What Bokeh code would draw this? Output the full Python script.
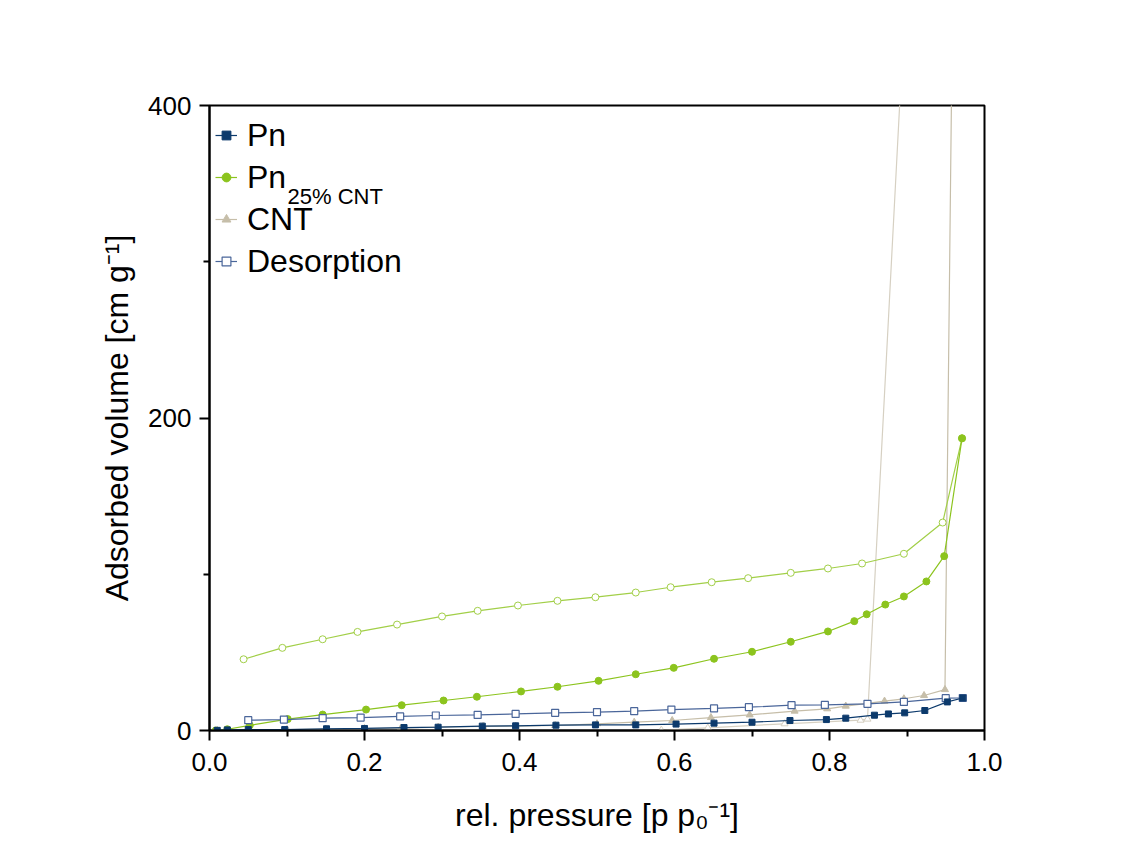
from bokeh.plotting import figure
from bokeh.models import FixedTicker, Range1d, Label, Legend, LegendItem, PrintfTickFormatter
from bokeh.embed import file_html
from bokeh.resources import INLINE

FONT = "Liberation Sans"

# ---- data ----
pn_ads_x = [0.01, 0.023, 0.05, 0.097, 0.151, 0.2, 0.251, 0.295, 0.352, 0.395, 0.447, 0.498,
            0.55, 0.602, 0.651, 0.7, 0.749, 0.796, 0.821, 0.858, 0.876, 0.897, 0.923, 0.952, 0.972]
pn_ads_y = [0.1, 0.4, 0.6, 0.6, 1.1, 1.3, 1.9, 2.1, 2.8, 3.0, 3.4, 3.6,
            3.6, 4.1, 4.7, 5.3, 6.4, 7.0, 7.9, 9.8, 10.6, 11.3, 12.8, 18.3, 20.8]

pn_des_x = [0.05, 0.096, 0.146, 0.195, 0.246, 0.292, 0.346, 0.395, 0.446, 0.5, 0.548, 0.596,
            0.651, 0.696, 0.751, 0.794, 0.849, 0.896, 0.95, 0.972]
pn_des_y = [6.6, 7.0, 7.9, 8.3, 9.0, 9.6, 10.0, 10.6, 11.3, 11.8, 12.4, 13.4,
            14.1, 14.9, 16.2, 16.4, 17.1, 18.3, 20.7, 20.8]

cnt25_ads_x = [0.008, 0.023, 0.052, 0.101, 0.146, 0.202, 0.248, 0.302, 0.345, 0.402, 0.449, 0.502,
               0.55, 0.599, 0.651, 0.7, 0.75, 0.798, 0.832, 0.848, 0.872, 0.896, 0.925, 0.948, 0.971]
cnt25_ads_y = [0.0, 0.8, 3.3, 7.3, 10.2, 13.4, 16.2, 19.2, 21.6, 25.0, 28.0, 31.8,
               36.0, 40.1, 45.9, 50.4, 56.8, 63.4, 70.0, 74.4, 80.6, 85.8, 95.4, 111.6, 187.0]

cnt25_des_x = [0.044, 0.094, 0.146, 0.191, 0.242, 0.3, 0.346, 0.398, 0.449, 0.498, 0.55, 0.595,
               0.648, 0.695, 0.75, 0.798, 0.842, 0.896, 0.946, 0.971]
cnt25_des_y = [45.6, 52.9, 58.4, 63.1, 67.8, 73.0, 76.6, 80.0, 83.0, 85.3, 88.3, 91.7,
               94.9, 97.5, 100.9, 103.7, 106.9, 113.1, 133.1, 187.0]

cnt_ads_x = [0.01, 0.025, 0.05, 0.1, 0.15, 0.2, 0.247, 0.295, 0.353, 0.395, 0.446, 0.5,
             0.548, 0.597, 0.647, 0.697, 0.755, 0.797, 0.821, 0.871, 0.896, 0.922, 0.949, 0.975]
cnt_ads_y = [0.1, 0.2, 0.4, 0.6, 0.9, 1.2, 1.5, 2.1, 2.6, 2.8, 3.2, 4.3,
             5.3, 6.4, 8.3, 10.0, 12.4, 13.9, 15.6, 18.8, 20.3, 22.4, 26.2, 1200.0]

cnt_des_x = [0.583, 0.643, 0.742, 0.84, 0.849, 0.975]
cnt_des_y = [0.3, 1.7, 4.3, 6.6, 7.3, 1200.0]

x_ticks = [0.0, 0.2, 0.4, 0.6, 0.8, 1.0]
x_minor = [0.1, 0.3, 0.5, 0.7, 0.9]
y_ticks = [0, 200, 400]
y_minor = [100, 300]

x_title = "rel. pressure [p p\u2080\u207b\u00b9]"
y_title = "Adsorbed volume [cm g\u207b\u00b9]"
legend_labels = ["Pn", "Pn", "CNT", "Desorption"]
legend_sub = "25% CNT"

# ---- colours ----
NAVY = "#0c3a6c"
DES_BLUE = "#4a669a"
GREEN = "#8cc41e"
GREEN_L = "#a2cf48"
TAN = "#c6bea9"
TAN_L = "#d6d0c2"

# frame: x 209..984, y 105..730 on the page
W, H = 1108, 848
p = figure(width=W, height=H, output_backend="svg", toolbar_location=None,
           x_range=Range1d(0, 1.0), y_range=Range1d(0, 400),
           min_border_left=209, min_border_right=124, min_border_top=105, min_border_bottom=118)
p.background_fill_color = "white"
p.border_fill_color = "white"
p.outline_line_color = "black"
p.outline_line_width = 2
p.xgrid.visible = False
p.ygrid.visible = False

for ax in (p.xaxis[0], p.yaxis[0]):
    ax.axis_line_width = 2
    ax.axis_line_color = "black"
    ax.major_tick_line_width = 2
    ax.minor_tick_line_width = 2
    ax.major_tick_line_color = "black"
    ax.minor_tick_line_color = "black"
    ax.major_tick_in = 0
    ax.minor_tick_in = 0
    ax.major_tick_out = 10
    ax.minor_tick_out = 6
    ax.major_label_text_font = FONT
    ax.major_label_text_font_size = "26px"
    ax.major_label_text_color = "black"
    ax.axis_label_text_font = FONT
    ax.axis_label_text_font_size = "32px"
    ax.axis_label_text_font_style = "normal"
    ax.axis_label_text_color = "black"

p.xaxis[0].axis_label = x_title
p.yaxis[0].axis_label = y_title
p.xaxis[0].major_label_standoff = 12
p.yaxis[0].major_label_standoff = 8
p.xaxis[0].axis_label_standoff = 23
p.yaxis[0].axis_label_standoff = 10

p.xaxis[0].ticker = FixedTicker(ticks=x_ticks, minor_ticks=x_minor)
p.yaxis[0].ticker = FixedTicker(ticks=y_ticks, minor_ticks=y_minor)
p.xaxis[0].formatter = PrintfTickFormatter(format="%.1f")

# CNT
cd_l = p.line(cnt_des_x, cnt_des_y, line_color=TAN_L, line_width=1.2)
cd_s = p.scatter(cnt_des_x, cnt_des_y, marker="triangle", size=7, fill_color="white",
                 line_color=TAN_L, line_width=1)
ca_l = p.line(cnt_ads_x, cnt_ads_y, line_color=TAN, line_width=1.2)
ca_s = p.scatter(cnt_ads_x, cnt_ads_y, marker="triangle", size=7, fill_color=TAN,
                 line_color=TAN, line_width=1)
# Pn 25% CNT
gd_l = p.line(cnt25_des_x, cnt25_des_y, line_color=GREEN_L, line_width=1.2)
gd_s = p.scatter(cnt25_des_x, cnt25_des_y, marker="circle", size=7, fill_color="white",
                 line_color=GREEN_L, line_width=1)
ga_l = p.line(cnt25_ads_x, cnt25_ads_y, line_color=GREEN, line_width=1.2)
ga_s = p.scatter(cnt25_ads_x, cnt25_ads_y, marker="circle", size=7, fill_color=GREEN,
                 line_color=GREEN, line_width=1)
# Pn
pd_l = p.line(pn_des_x, pn_des_y, line_color=DES_BLUE, line_width=1.2)
pd_s = p.scatter(pn_des_x, pn_des_y, marker="square", size=7, fill_color="white",
                 line_color=DES_BLUE, line_width=1.2)
pa_l = p.line(pn_ads_x, pn_ads_y, line_color=NAVY, line_width=1.2)
pa_s = p.scatter(pn_ads_x, pn_ads_y, marker="square", size=6, fill_color=NAVY,
                 line_color=NAVY, line_width=1)

legend = Legend(items=[
    LegendItem(label=legend_labels[0], renderers=[pa_l, pa_s]),
    LegendItem(label=legend_labels[1], renderers=[ga_l, ga_s]),
    LegendItem(label=legend_labels[2], renderers=[ca_l, ca_s]),
    LegendItem(label=legend_labels[3], renderers=[pd_l, pd_s]),
], location=(6, 448), glyph_width=22, glyph_height=42, label_height=42, spacing=0,
    padding=0, margin=0, label_standoff=10, border_line_color=None,
    background_fill_alpha=0, label_text_font=FONT, label_text_font_size="32px",
    label_text_color="black")
p.add_layout(legend)

# legend subscript (inside the frame; position converted from page pixels)
def dx(px):
    return (px - 209) / 775.0

def dy(py):
    return (730 - py) / 625.0 * 400.0

p.add_layout(Label(x=dx(287), y=dy(196), text=legend_sub, text_font=FONT,
                   text_font_size="22px", text_align="left", text_baseline="alphabetic",
                   text_color="black"))

open("out.html", "w").write(file_html(p, INLINE))
